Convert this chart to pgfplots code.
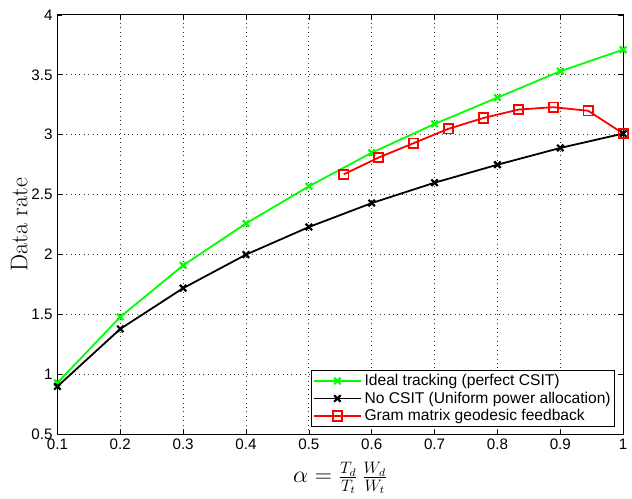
\documentclass[border=0pt]{standalone}
\usepackage{fontspec}
\usepackage{pgfplots}
\pgfplotsset{compat=1.18}
\newfontfamily\arial{Liberation Sans}
\definecolor{mgreen}{RGB}{0,255,0}
\definecolor{mred}{RGB}{255,0,0}

\begin{document}
\begin{tikzpicture}
\begin{axis}[
  scale only axis,
  width=410pt, height=304pt,
  xmin=0.1, xmax=1, ymin=0.5, ymax=4,
  xtick={0.1,0.2,...,1.0}, ytick={0.5,1,...,4},
  xticklabels={0.1,0.2,0.3,0.4,0.5,0.6,0.7,0.8,0.9,1},
  yticklabels={0.5,1,1.5,2,2.5,3,3.5,4},
  tick align=inside, major tick length=3.5pt,
  tick style={black, line width=0.5pt},
  ticklabel style={font=\arial\fontsize{11}{13}\selectfont},
  xticklabel style={yshift=0pt},
  grid=major,
  major grid style={black!80, line width=0.6pt, dash pattern=on 0.6pt off 2.6pt},
  axis line style={line width=0.6pt},
  xlabel={\fontsize{17}{20}\selectfont $\alpha=\frac{T_d}{T_t}\,\frac{W_d}{W_t}$},
  ylabel={\fontsize{17.5}{20}\selectfont Data rate},
  xlabel style={yshift=-2pt},
  ylabel style={yshift=-4pt},
  legend style={at={(rel axis cs:0.986,0.017)}, anchor=south east,
    font=\arial\fontsize{11.3}{13}\selectfont, draw=black, line width=0.6pt,
    inner sep=1pt, row sep=-1pt, cells={anchor=west}},
  legend image code/.code={
    \draw[mark repeat=2,mark phase=2] plot coordinates {(0cm,0cm) (0.6cm,0cm) (1.2cm,0cm)};},
  every axis plot/.append style={line width=1.3pt},
]
\addplot[mgreen, mark=x, mark size=3.3pt, mark options={line width=1.6pt}] coordinates {
(0.1,0.93)(0.2,1.48)(0.3,1.91)(0.4,2.26)(0.5,2.57)(0.6,2.85)(0.7,3.09)(0.8,3.31)(0.9,3.53)(1.0,3.71)};
\addlegendentry{Ideal tracking (perfect CSIT)}
\addplot[black, mark=x, mark size=3.3pt, mark options={line width=1.6pt}] coordinates {
(0.1,0.90)(0.2,1.38)(0.3,1.72)(0.4,2.00)(0.5,2.23)(0.6,2.43)(0.7,2.60)(0.8,2.75)(0.9,2.89)(1.0,3.01)};
\addlegendentry{No CSIT (Uniform power allocation)}
\addplot[mred, mark=square, mark size=3.4pt, mark options={line width=1.3pt}] coordinates {
(0.5556,2.67)(0.6111,2.81)(0.6667,2.93)(0.7222,3.05)(0.7778,3.14)(0.8333,3.21)(0.8889,3.23)(0.9444,3.20)(1.0,3.01)};
\addlegendentry{Gram matrix geodesic feedback}
\end{axis}
\path (current axis.south west) ++(-41.6pt,-43pt) coordinate (bl);
\path (current axis.north east) ++(1.4pt,10.8pt) coordinate (tr);
\path (bl) rectangle (tr);
\end{tikzpicture}
\end{document}
